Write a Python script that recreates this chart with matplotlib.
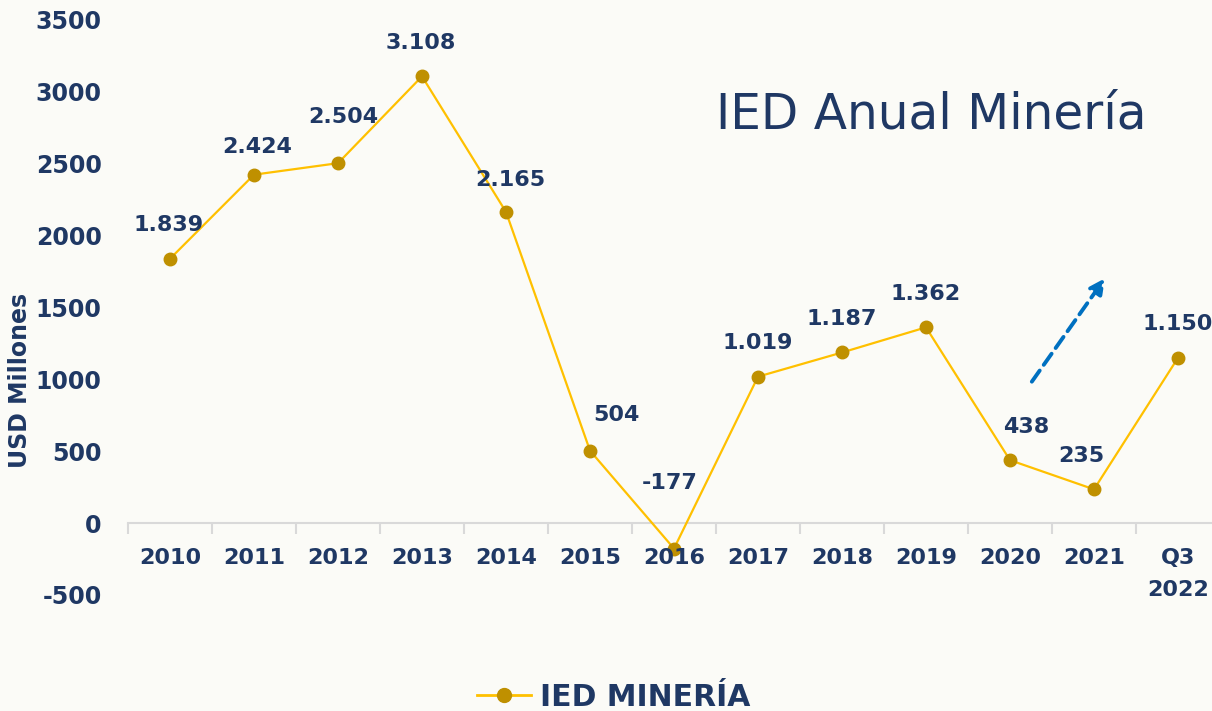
import numpy as np
import matplotlib.pyplot as plt
from matplotlib.lines import Line2D

years = ["2010", "2011", "2012", "2013", "2014", "2015", "2016",
         "2017", "2018", "2019", "2020", "2021", "Q3\n2022"]
ied = [1839, 2424, 2504, 3108, 2165, 504, -177, 1019, 1187, 1362, 438, 235, 1150]
labels = ["1.839", "2.424", "2.504", "3.108", "2.165", "504", "-177",
          "1.019", "1.187", "1.362", "438", "235", "1.150"]
# label offsets in points (dx, dy)
offsets = [(-1, 24), (2, 20), (4, 33), (-1, 24), (3, 23), (19, 26), (-3, 47),
           (0, 24), (0, 24), (0, 24), (12, 24), (-9, 24), (0, 24)]

NAVY = "#1F3864"
LINE = "#FFC000"
MARK = "#BF9000"
BG = "#FBFBF7"

plt.rcParams["font.family"] = ["DejaVu Sans"]
plt.rcParams["axes.unicode_minus"] = False

# plot area runs a little past the right edge of the canvas
fig = plt.figure(figsize=(12.12, 7.11), dpi=100, facecolor=BG)
ax = fig.add_axes([128 / 1212, 1 - 595 / 711, 1092 / 1212, (595 - 20) / 711])
ax.set_facecolor(BG)

x = np.arange(len(years))
ax.plot(x, ied, color=LINE, lw=1.6, marker="o", ms=9,
        mfc=MARK, mec=MARK, zorder=3)

for xi, yi, lab, (dx, dy) in zip(x, ied, labels, offsets):
    ax.annotate(lab, (xi, yi), xytext=(dx, dy), textcoords="offset points",
                ha="center", va="center", fontsize=16, fontweight="bold", color=NAVY)

ax.set_xlim(-0.5, len(years) - 0.5)
ax.set_ylim(-500, 3500)
ax.set_yticks(np.arange(-500, 3501, 500))
ax.tick_params(axis="y", length=0, pad=19, labelsize=17, labelcolor=NAVY)
for t in ax.get_yticklabels():
    t.set_fontweight("bold")

# x-axis sits at zero
ax.spines["bottom"].set_position(("data", 0))
ax.spines["bottom"].set_color("#D9D9D9")
ax.spines["bottom"].set_linewidth(1.5)
for s in ("top", "right", "left"):
    ax.spines[s].set_visible(False)
ax.set_xticks(np.arange(-0.5, len(years), 1.0))
ax.set_xticklabels([])
ax.tick_params(axis="x", length=8, width=1.5, color="#D9D9D9")
for xi, yr in zip(x, years):
    ax.text(xi, -170, yr, ha="center", va="top", fontsize=16,
            fontweight="bold", color=NAVY, linespacing=1.75)

ax.set_ylabel("USD Millones", fontsize=17, fontweight="bold", color=NAVY)
ax.yaxis.set_label_coords(-96 / 1092, 0.374)

ax.text((716 - 128) / 1092, 0.835, "IED Anual Minería", transform=ax.transAxes,
        fontsize=35, color=NAVY, ha="left", va="center")

ax.annotate("", xy=(11.13, 1703), xytext=(10.26, 984),
            arrowprops=dict(arrowstyle="-|>,head_length=0.9,head_width=0.45",
                            color="#0070C0", lw=2.8, ls=(0, (3.5, 1.8)),
                            shrinkA=0, shrinkB=0))

handle = Line2D([], [], color=LINE, lw=2, marker="o", ms=10, mfc=MARK, mec=MARK)
fig.legend([handle], ["IED MINERÍA"], loc="center", bbox_to_anchor=(614 / 1212, 1 - 697 / 711),
           frameon=False, prop=dict(size=21.5, weight="bold"), labelcolor=NAVY,
           handlelength=1.8, handletextpad=0.3)

fig.savefig("out.png", dpi=100, facecolor=BG)
